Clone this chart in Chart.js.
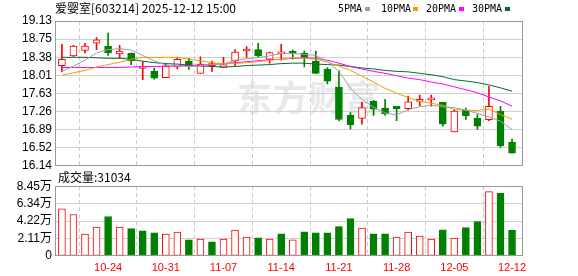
<!DOCTYPE html>
<html><head><meta charset="utf-8">
<script src="https://cdn.jsdelivr.net/npm/chart.js@4.4.1/dist/chart.umd.min.js"></script>
<style>
html,body{margin:0;padding:0;background:#fff;}
#wrap{position:relative;width:578px;height:276px;overflow:hidden;font-family:"Noto Sans CJK SC",sans-serif;}
canvas{position:absolute;left:0;}
#c1{top:0;z-index:1;} #c2{top:176px;z-index:1;}
.t{position:absolute;white-space:nowrap;color:#000;z-index:2;}
#title{left:55px;top:1px;font-size:12px;line-height:14px;}
#vtitle{left:58px;top:170px;font-size:12px;line-height:14px;}
.lg{top:3px;font-family:"DejaVu Sans Mono",monospace;font-size:10px;line-height:12px;}
.sq{position:absolute;top:7px;width:5px;height:4px;z-index:2;}
#wm{position:absolute;left:237px;top:70px;font-size:35px;font-weight:bold;color:#e8e8ec;z-index:0;white-space:nowrap;letter-spacing:1px;}
</style></head>
<body>
<div id="wrap">
  <div id="wm">东方财富</div>
  <div class="t" id="title">爱婴室[603214] 2025-12-12 15:00</div>
  <div class="t lg" style="left:338px">5PMA</div><div class="sq" style="left:365px;background:#a0a0a0"></div>
  <div class="t lg" style="left:381px">10PMA</div><div class="sq" style="left:413px;background:#f0a000"></div>
  <div class="t lg" style="left:426px">20PMA</div><div class="sq" style="left:459px;background:#ff00ff"></div>
  <div class="t lg" style="left:472px">30PMA</div><div class="sq" style="left:505px;background:#006b33"></div>
  <div class="t" id="vtitle">成交量:31034</div>
  <canvas id="c1" width="578" height="176"></canvas>
  <canvas id="c2" width="578" height="100"></canvas>
</div>
<script>
const dates = ['10-20','10-21','10-22','10-23','10-24','10-27','10-28','10-29','10-30','10-31',
  '11-03','11-04','11-05','11-06','11-07','11-10','11-11','11-12','11-13','11-14',
  '11-17','11-18','11-19','11-20','11-21','11-24','11-25','11-26','11-27','11-28',
  '12-01','12-02','12-03','12-04','12-05','12-08','12-09','12-10','12-11','12-12'];
const open = [18.21,18.41,18.52,18.67,18.61,18.45,18.47,18.15,18.09,17.96,
  18.18,18.30,18.05,18.21,18.17,18.31,18.51,18.54,18.34,18.45,
  18.47,18.47,18.30,18.13,17.76,17.18,17.12,17.47,17.33,17.37,
  17.32,17.47,17.50,17.45,16.84,17.29,17.12,17.09,17.27,16.63];
const close = [18.34,18.61,18.61,18.74,18.47,18.51,18.31,18.16,17.95,18.20,
  18.34,18.19,18.24,18.22,18.23,18.49,18.51,18.41,18.48,18.46,
  18.46,18.38,18.05,17.89,17.10,16.99,17.34,17.31,17.21,17.32,
  17.46,17.51,17.51,17.00,17.27,17.17,16.96,17.37,16.55,16.40];
const high = [18.65,18.63,18.67,18.79,18.88,18.63,18.47,18.29,18.16,18.24,
  18.38,18.36,18.39,18.30,18.38,18.54,18.60,18.67,18.49,18.65,
  18.53,18.51,18.51,18.17,18.10,17.24,17.45,17.49,17.51,17.37,
  17.58,17.60,17.60,17.45,17.30,17.33,17.20,17.78,17.37,16.69];
const low = [18.08,18.40,18.47,18.54,18.42,18.36,18.23,17.92,17.93,17.96,
  18.14,18.13,18.05,18.09,18.17,18.20,18.38,18.39,18.26,18.32,
  18.34,18.18,18.04,17.83,17.07,16.90,17.00,17.18,17.18,17.07,
  17.29,17.38,17.37,16.96,16.84,17.10,16.89,17.07,16.52,16.40];
const volume = [57200,50200,26500,35100,47800,35100,33100,30600,28200,26500,
  29000,19600,20400,17100,20400,31400,22900,22000,20400,26900,
  19600,29400,28200,28200,35500,45300,33900,26900,26900,22900,
  29000,24100,20400,31800,21600,34300,41600,78000,75900,31034];
const ma5 = [18.09,18.20,18.32,18.47,18.54,18.56,18.53,18.42,18.31,18.22,
  18.20,18.19,18.20,18.23,18.24,18.32,18.35,18.37,18.41,18.46,
  18.46,18.44,18.42,18.30,18.09,17.74,17.51,17.35,17.23,17.19,
  17.30,17.36,17.39,17.36,17.34,17.29,17.22,17.15,17.06,16.89];
const ma10 = [18.01,18.06,18.11,18.18,18.23,18.28,18.34,18.38,18.38,18.38,
  18.38,18.34,18.31,18.27,18.25,18.25,18.27,18.29,18.32,18.34,
  18.37,18.36,18.34,18.28,18.20,18.11,17.99,17.87,17.74,17.64,
  17.55,17.47,17.43,17.39,17.30,17.29,17.28,17.31,17.20,17.10];
const ma20 = [18.17,18.17,18.17,18.17,18.17,18.17,18.18,18.19,18.19,18.20,
  18.20,18.21,18.22,18.23,18.25,18.27,18.29,18.31,18.33,18.34,
  18.36,18.37,18.36,18.32,18.26,18.19,18.14,18.09,18.05,18.00,
  17.95,17.92,17.87,17.83,17.77,17.71,17.65,17.56,17.48,17.37];
const ma30 = [18.38,18.38,18.38,18.37,18.36,18.36,18.34,18.30,18.27,18.25,
  18.24,18.22,18.20,18.19,18.18,18.19,18.21,18.22,18.23,18.25,
  18.26,18.26,18.24,18.23,18.22,18.19,18.16,18.14,18.11,18.09,
  18.08,18.05,18.02,17.98,17.92,17.89,17.86,17.81,17.75,17.68];
const priceTickLabels = ['16.14','16.52','16.89','17.26','17.63','18.01','18.38','18.75','19.13'];
const volTickLabels = ['0','2.11万','4.22万','6.34万','8.45万'];
const xTickLabels = ['10-24','10-31','11-07','11-14','11-21','11-28','12-05','12-12'];

const RED = '#ff0000', GREEN = '#008000';
const N = dates.length;
const idx = dates.map((d, i) => i);
const xTicks = xTickLabels.map(l => dates.indexOf(l));
const candleUp = idx.map(i => close[i] >= open[i]);
const volUp = idx.map(i => i === 0 ? close[i] >= open[i] : close[i] >= close[i - 1]);

const framePlugin = {
  id: 'frame',
  afterDraw(chart) {
    const { ctx, chartArea: a } = chart;
    const l = Math.round(a.left), t = Math.round(a.top), r = Math.round(a.right), b = Math.round(a.bottom);
    ctx.save();
    ctx.strokeStyle = '#999';
    ctx.lineWidth = 1;
    ctx.strokeRect(l + 0.5, t + 0.5, r - l - 1, b - t - 1);
    ctx.restore();
  }
};

function xScale(showLabels) {
  return {
    type: 'linear', min: -0.6, max: 39.95, offset: false,
    grid: { color: '#cccccc', drawTicks: false, lineWidth: 1 },
    border: { display: false, dash: [4, 3] },
    afterBuildTicks: s => { s.ticks = xTicks.map(v => ({ value: v })); },
    ticks: {
      display: showLabels, autoSkip: false, maxRotation: 0, padding: 5,
      color: RED, font: { family: 'Liberation Sans', size: 11 },
      callback: v => dates[v]
    },
    afterFit: s => { s.height = showLabels ? 20 : 0; }
  };
}
function yScale(min, max, labels) {
  const n = labels.length - 1;
  return {
    type: 'linear', min, max,
    afterBuildTicks: s => { s.ticks = labels.map((l, k) => ({ value: min + k * (max - min) / n })); },
    afterFit: s => { s.width = 55; },
    grid: {
      drawTicks: false,
      color: c => (c.index === 0 || c.index === n) ? 'rgba(0,0,0,0)' : '#d0d0d0'
    },
    border: { display: false },
    ticks: {
      autoSkip: false, padding: 3, color: '#000',
      font: { family: "'Liberation Sans', 'Noto Sans CJK SC'", size: 12 },
      callback: (v, k) => labels[k]
    }
  };
}

const lineDs = (arr, color) => ({
  type: 'line', data: idx.map(i => ({ x: i, y: arr[i] })),
  borderColor: color, borderWidth: 1, pointRadius: 0, tension: 0, order: 0
});

new Chart(document.getElementById('c1'), {
  type: 'bar',
  data: {
    datasets: [
      {
        data: idx.map(i => ({ x: i, y: [low[i], high[i]] })),
        backgroundColor: idx.map(i => candleUp[i] ? RED : GREEN),
        barThickness: 1, grouped: false, order: 3
      },
      {
        data: idx.map(i => ({ x: i, y: [open[i], close[i]] })),
        backgroundColor: idx.map(i => candleUp[i] ? '#ffffff' : GREEN),
        borderColor: idx.map(i => candleUp[i] ? RED : GREEN),
        borderWidth: 1, borderSkipped: false, minBarLength: 2,
        barThickness: 7, grouped: false, order: 2
      },
      lineDs(ma5, '#a0a0a0'),
      lineDs(ma10, '#f0a000'),
      lineDs(ma20, '#ff00ff'),
      lineDs(ma30, '#006b33')
    ]
  },
  options: {
    responsive: false, animation: false, devicePixelRatio: 1,
    layout: { padding: { left: 0, right: 55, top: 21, bottom: 10 } },
    plugins: { legend: { display: false }, tooltip: { enabled: false } },
    scales: { x: xScale(false), y: yScale(16.14, 19.13, priceTickLabels) }
  },
  plugins: [framePlugin]
});

new Chart(document.getElementById('c2'), {
  type: 'bar',
  data: {
    datasets: [{
      data: idx.map(i => ({ x: i, y: volume[i] })),
      backgroundColor: idx.map(i => volUp[i] ? '#ffffff' : GREEN),
      borderColor: idx.map(i => volUp[i] ? RED : GREEN),
      borderWidth: 1, borderSkipped: false, barThickness: 7, grouped: false
    }]
  },
  options: {
    responsive: false, animation: false, devicePixelRatio: 1,
    layout: { padding: { left: 0, right: 55, top: 10, bottom: 0 } },
    plugins: { legend: { display: false }, tooltip: { enabled: false } },
    scales: { x: xScale(true), y: yScale(0, 84500, volTickLabels) }
  },
  plugins: [framePlugin]
});
</script>
</body></html>
